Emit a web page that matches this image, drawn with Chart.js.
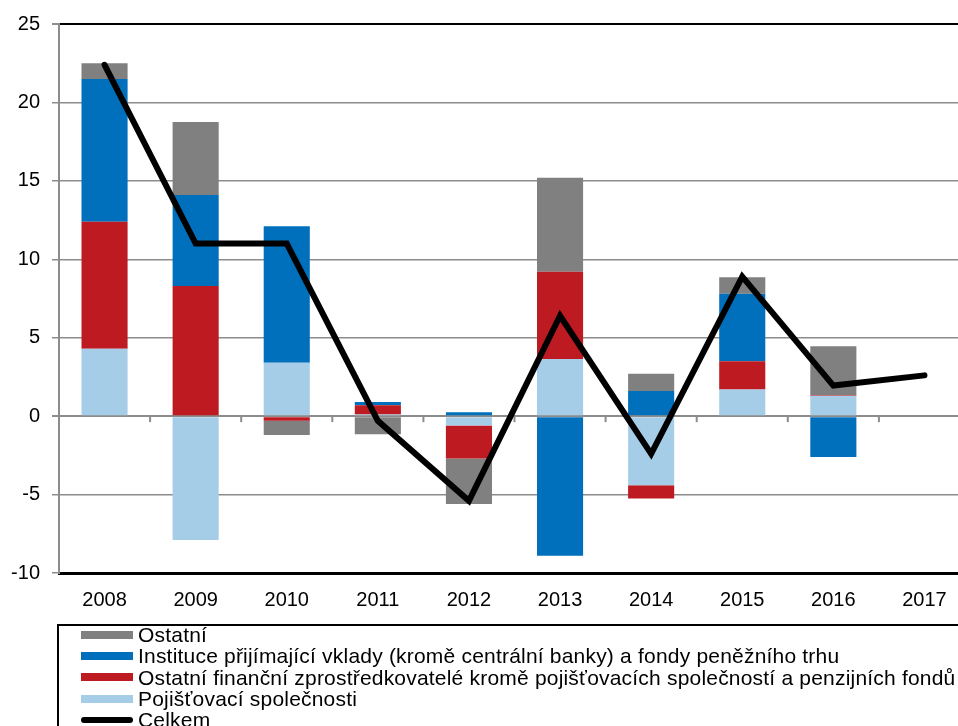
<!DOCTYPE html>
<html>
<head>
<meta charset="utf-8">
<script src="https://cdn.jsdelivr.net/npm/chart.js@4"></script>
<style>
  body { margin: 0; background: #fff; overflow: hidden; width: 958px; height: 726px; position: relative; }
  #wrap { position: absolute; left: 0; top: 0; width: 970px; height: 625px; }
  #legend { position: absolute; left: 57px; top: 624px; width: 960px; height: 120px;
            border: 2px solid #000; box-sizing: border-box; padding: 0 0 0 22px; overflow: hidden;
            font-family: "Liberation Sans", Arial, sans-serif; font-size: 21px; letter-spacing: 0.2px; color: #000; }
  #legendInner { margin-top: -2px; }
  .item { height: 21.3px; line-height: 21.3px; display: flex; align-items: center; white-space: nowrap; }
  .sw { width: 52px; height: 8px; margin-right: 5px; flex: none; }
  .ln { width: 52px; height: 6px; border-radius: 3px; margin-right: 5px; flex: none; }
</style>
</head>
<body>
<div id="wrap"><canvas id="myChart" width="970" height="625"></canvas></div>
<div id="legend"><div id="legendInner"></div></div>
<script>
const years = ["2008", "2009", "2010", "2011", "2012", "2013", "2014", "2015", "2016", "2017"];

// stacked from the bottom up
const pojistovny = [4.3, -7.9, 3.4, 0.1, -0.6, 3.65, -4.4, 1.7, 1.3, 0];
const ostatniZprostredkovatele = [8.1, 8.3, -0.3, 0.6, -2.1, 5.55, -0.85, 1.8, 0.05, 0];
const instituce = [9.1, 5.8, 8.7, 0.2, 0.25, -8.9, 1.6, 4.3, -2.6, 0];
const ostatni = [1.0, 4.65, -0.9, -1.15, -2.9, 6.0, 1.1, 1.05, 3.1, 0];
const celkem = [22.4, 11.0, 11.0, -0.3, -5.4, 6.4, -2.4, 8.9, 1.95, 2.6];

const yTicks = [25, 20, 15, 10, 5, 0, -5, -10];

const ctx = document.getElementById("myChart");

// small downward ticks on the zero line between categories
const zeroTicks = {
    id: "zeroTicks",
    beforeDatasetsDraw(chart) {
        const x = chart.scales.x, y = chart.scales.y;
        const y0 = y.getPixelForValue(0);
        const c = chart.ctx;
        c.save();
        c.strokeStyle = "#8c8c8c";
        c.lineWidth = 2;
        for (let i = 0; i < years.length - 1; i++) {
            const px = (x.getPixelForValue(i) + x.getPixelForValue(i + 1)) / 2;
            c.beginPath();
            c.moveTo(px, y0);
            c.lineTo(px, y0 + 6);
            c.stroke();
        }
        c.restore();
    }
};

// html legend built from the datasets
const htmlLegend = {
    id: "htmlLegend",
    afterUpdate(chart) {
        const box = document.getElementById("legendInner");
        box.innerHTML = "";
        [3, 2, 1, 0, 4].forEach(i => {
            const ds = chart.data.datasets[i];
            const row = document.createElement("div");
            row.className = "item";
            const mark = document.createElement("span");
            if (ds.type === "line") {
                mark.className = "ln";
                mark.style.background = ds.borderColor;
            } else {
                mark.className = "sw";
                mark.style.background = ds.backgroundColor;
            }
            const txt = document.createElement("span");
            txt.textContent = ds.label;
            row.appendChild(mark);
            row.appendChild(txt);
            box.appendChild(row);
        });
    }
};

new Chart(ctx, {
    type: "bar",
    data: {
        labels: years,
        datasets: [
            { label: "Pojišťovací společnosti", data: pojistovny, backgroundColor: "#a6cde7", order: 2 },
            { label: "Ostatní finanční zprostředkovatelé kromě pojišťovacích společností a penzijních fondů", data: ostatniZprostredkovatele, backgroundColor: "#be1a22", order: 2 },
            { label: "Instituce přijímající vklady (kromě centrální banky) a fondy peněžního trhu", data: instituce, backgroundColor: "#0070bc", order: 2 },
            { label: "Ostatní", data: ostatni, backgroundColor: "#808080", order: 2 },
            { type: "line", label: "Celkem", data: celkem, borderColor: "#000", backgroundColor: "#000",
              borderWidth: 6, pointRadius: 0, tension: 0, borderCapStyle: "round", borderJoinStyle: "miter", order: 1 }
        ]
    },
    options: {
        responsive: false,
        animation: false,
        layout: { padding: { top: 22, right: 0, left: 0, bottom: 0 } },
        datasets: { bar: { barPercentage: 1, categoryPercentage: 0.506 } },
        plugins: { legend: { display: false }, tooltip: { enabled: false } },
        scales: {
            x: {
                stacked: true,
                afterFit: s => { s.height = 52; },
                grid: { display: false },
                border: { display: true, color: "#000", width: 3 },
                ticks: { color: "#000", padding: 7, font: { family: "Liberation Sans", size: 20 } }
            },
            y: {
                stacked: true,
                min: -10,
                max: 25,
                afterFit: s => { s.width = 59; },
                afterBuildTicks: s => { s.ticks = yTicks.map(v => ({ value: v })); },
                grid: {
                    color: c => (c.tick && c.tick.value === 25) ? "#000" : "#8c8c8c",
                    lineWidth: c => (c.tick && c.tick.value === 0) ? 2 : (c.tick && c.tick.value === 25 ? 2 : 1.5),
                    tickColor: "#8c8c8c",
                    tickLength: 7
                },
                border: { display: true, color: "#8c8c8c", width: 2 },
                ticks: { color: "#000", padding: 12, font: { family: "Liberation Sans", size: 20 } }
            }
        }
    },
    plugins: [zeroTicks, htmlLegend]
});
</script>
</body>
</html>
